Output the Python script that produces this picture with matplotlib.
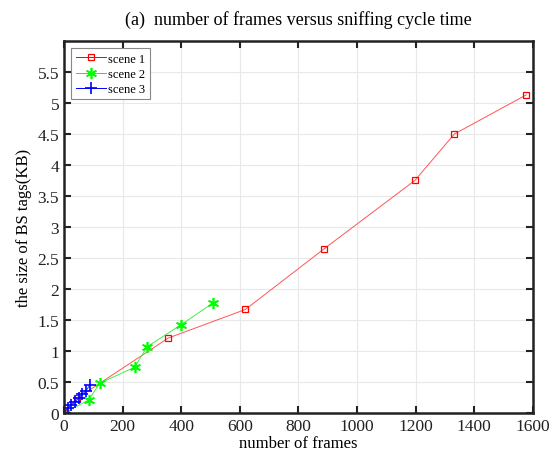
import matplotlib.pyplot as plt
import numpy as np

plt.rcParams['font.family'] = ['Liberation Serif', 'DejaVu Serif']

# scene data
x1 = [0, 45, 356, 619, 888, 1197, 1332, 1577]
y1 = [0, 0.24, 1.21, 1.67, 2.65, 3.75, 4.50, 5.13]

x2 = [0, 84, 122, 241, 284, 398, 507]
y2 = [0, 0.21, 0.48, 0.74, 1.07, 1.42, 1.77]

x3 = [0, 12, 25, 38, 50, 62, 75, 88]
y3 = [0, 0.08, 0.13, 0.18, 0.24, 0.30, 0.36, 0.45]

xticks = np.arange(0, 1601, 200)
yticks = np.arange(0, 5.51, 0.5)

fig = plt.figure(figsize=(5.54, 4.56), dpi=100)
ax = fig.add_axes([0.1155, 0.092, 0.8465, 0.816])

ax.plot(x1, y1, color='#ff5555', lw=0.7, marker='s', ms=5, mfc='none',
        mec='red', mew=0.9, label='scene 1')
ax.plot(x2, y2, color='#44ee44', lw=0.7, marker=(6, 2, 0), ms=8,
        mec='#00ff00', mew=1.2, label='scene 2')
ax.plot(x3, y3, color='#3333ff', lw=0.7, marker='+', ms=9, mec='blue',
        mew=1.2, label='scene 3')

ax.set_xlim(0, 1600)
ax.set_ylim(0, 6)
ax.set_xticks(xticks)
ax.set_yticks(yticks)
ax.set_yticklabels(['0', '0.5', '1', '1.5', '2', '2.5', '3', '3.5', '4', '4.5', '5', '5.5'])
ax.tick_params(direction='in', top=True, right=True, labelsize=12.5, length=5,
               width=1.5, colors='#222222')
for s in ax.spines.values():
    s.set_linewidth(1.8)
    s.set_color('#222222')
ax.grid(True, color='#e8e8e8', lw=0.8)

ax.set_xlabel('number of frames', fontsize=12, labelpad=1)
ax.set_ylabel('the size of BS tags(KB)', fontsize=12, labelpad=4)
ax.set_title('(a)  number of frames versus sniffing cycle time', fontsize=13, pad=12)

leg = ax.legend(loc='upper left', fontsize=9, fancybox=False, framealpha=1,
                edgecolor='#888888', handlelength=2.4, borderpad=0.35,
                labelspacing=0.25, handletextpad=0.2, borderaxespad=0.6)
leg.get_frame().set_linewidth(0.8)
for h, c in zip(leg.get_lines(), ['red', '#00ff00', 'blue']):
    h.set_color(c)

fig.savefig('out.png', dpi=100)
